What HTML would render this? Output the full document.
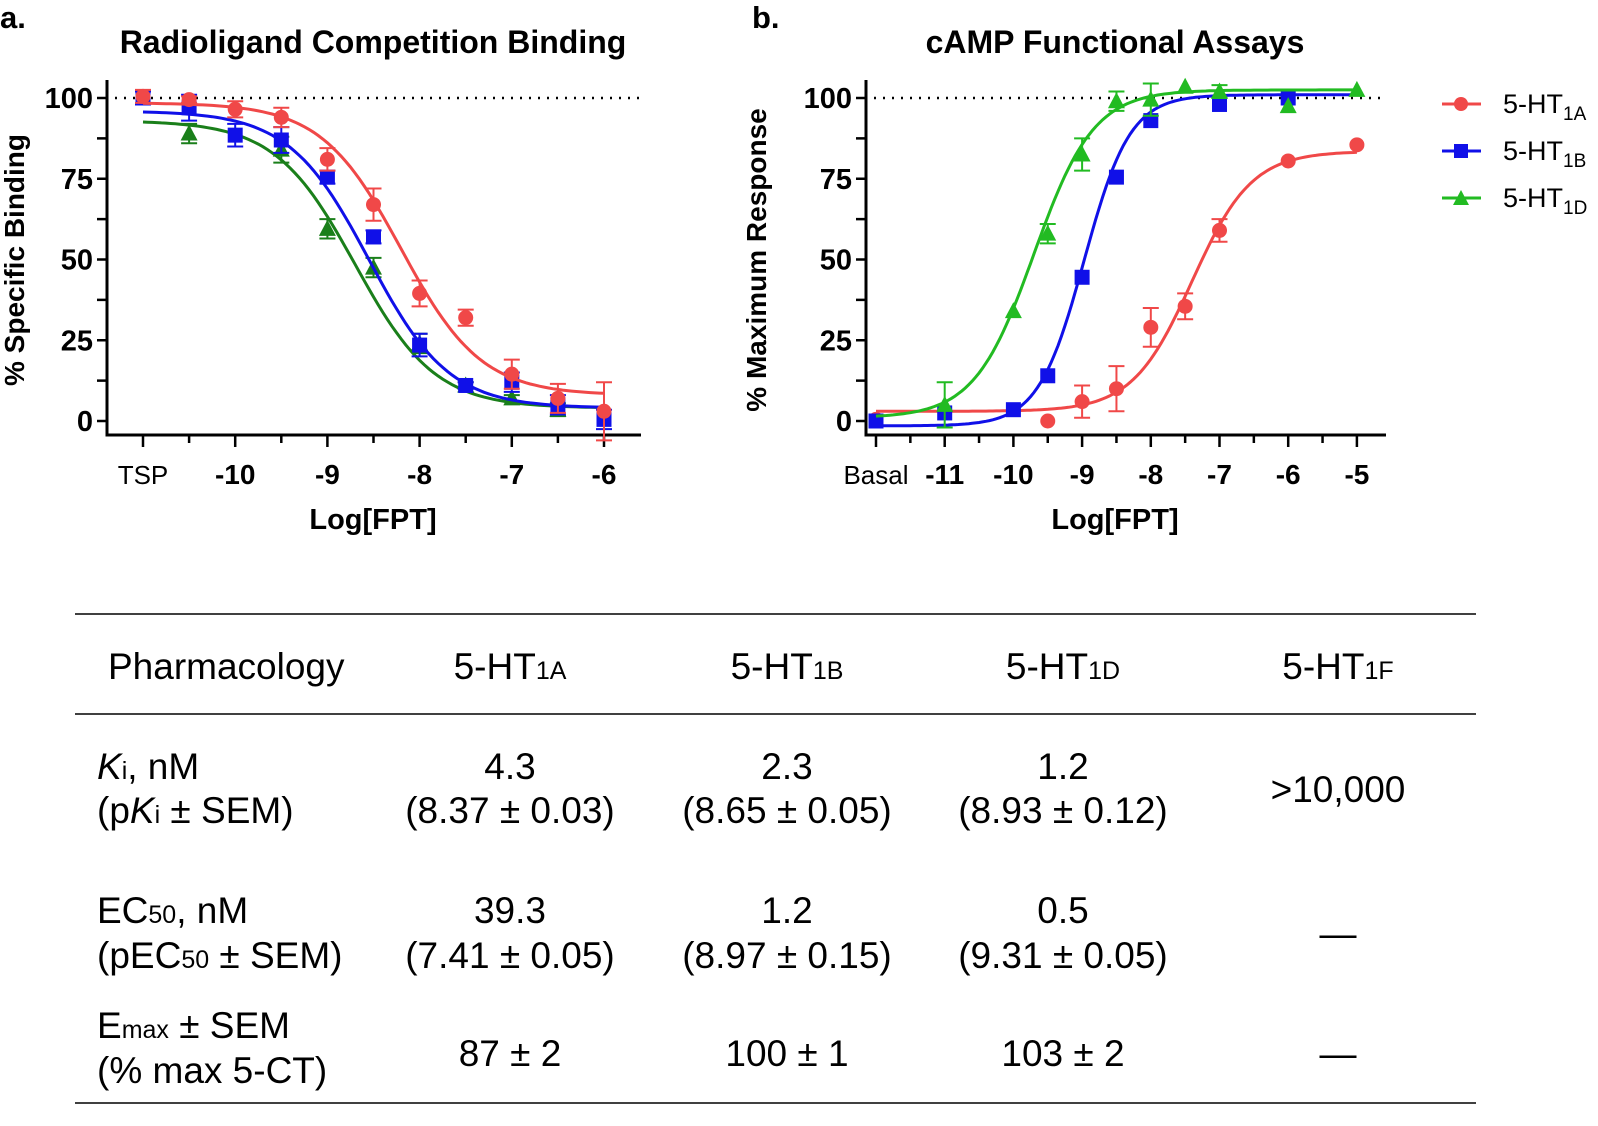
<!DOCTYPE html>
<html><head><meta charset="utf-8"><style>
body{margin:0;background:#fff;}
svg{display:block;font-family:"Liberation Sans",Arial,sans-serif;}
</style></head><body>
<svg id="s" width="1598" height="1126" viewBox="0 0 1598 1126" xmlns="http://www.w3.org/2000/svg">
<text x="0" y="28" font-size="31" font-weight="bold">a.</text>
<text x="373" y="53" font-size="32" font-weight="bold" text-anchor="middle">Radioligand Competition Binding</text>
<text x="752" y="28" font-size="31" font-weight="bold">b.</text>
<text x="1115" y="53" font-size="32" font-weight="bold" text-anchor="middle">cAMP Functional Assays</text>
<g id="g"></g>
<g font-size="37" fill="#000">
<line x1="75" y1="614" x2="1476" y2="614" stroke="#000" stroke-width="1.5"/>
<line x1="75" y1="714" x2="1476" y2="714" stroke="#000" stroke-width="1.5"/>
<line x1="75" y1="1103" x2="1476" y2="1103" stroke="#000" stroke-width="1.5"/>
<text x="108" y="679">Pharmacology</text>
<text x="510" y="679" text-anchor="middle">5-HT<tspan font-size="25">1A</tspan></text>
<text x="787" y="679" text-anchor="middle">5-HT<tspan font-size="25">1B</tspan></text>
<text x="1063" y="679" text-anchor="middle">5-HT<tspan font-size="25">1D</tspan></text>
<text x="1338" y="679" text-anchor="middle">5-HT<tspan font-size="25">1F</tspan></text>
<text x="97" y="779"><tspan font-style="italic">K</tspan><tspan font-size="25">i</tspan>, nM</text>
<text x="97" y="823">(p<tspan font-style="italic">K</tspan><tspan font-size="25">i</tspan> ± SEM)</text>
<text x="510" y="779" text-anchor="middle">4.3</text>
<text x="510" y="823" text-anchor="middle">(8.37 ± 0.03)</text>
<text x="787" y="779" text-anchor="middle">2.3</text>
<text x="787" y="823" text-anchor="middle">(8.65 ± 0.05)</text>
<text x="1063" y="779" text-anchor="middle">1.2</text>
<text x="1063" y="823" text-anchor="middle">(8.93 ± 0.12)</text>
<text x="1338" y="802" text-anchor="middle">&gt;10,000</text>
<text x="97" y="923">EC<tspan font-size="25">50</tspan>, nM</text>
<text x="97" y="968">(pEC<tspan font-size="25">50</tspan> ± SEM)</text>
<text x="510" y="923" text-anchor="middle">39.3</text>
<text x="510" y="968" text-anchor="middle">(7.41 ± 0.05)</text>
<text x="787" y="923" text-anchor="middle">1.2</text>
<text x="787" y="968" text-anchor="middle">(8.97 ± 0.15)</text>
<text x="1063" y="923" text-anchor="middle">0.5</text>
<text x="1063" y="968" text-anchor="middle">(9.31 ± 0.05)</text>
<text x="1338" y="946" text-anchor="middle">—</text>
<text x="97" y="1038">E<tspan font-size="25">max</tspan> ± SEM</text>
<text x="97" y="1083">(% max 5-CT)</text>
<text x="510" y="1066" text-anchor="middle">87 ± 2</text>
<text x="787" y="1066" text-anchor="middle">100 ± 1</text>
<text x="1063" y="1066" text-anchor="middle">103 ± 2</text>
<text x="1338" y="1066" text-anchor="middle">—</text>
</g>
<g font-size="27">
<line x1="1442" y1="104" x2="1481" y2="104" stroke="#f04848" stroke-width="3"/><circle cx="1461" cy="104" r="7" fill="#f04848"/>
<text x="1503" y="113">5-HT<tspan font-size="19" dy="7">1A</tspan></text>
<line x1="1442" y1="151" x2="1481" y2="151" stroke="#1010e8" stroke-width="3"/><rect x="1454" y="144" width="14" height="14" fill="#1010e8"/>
<text x="1503" y="160">5-HT<tspan font-size="19" dy="7">1B</tspan></text>
<line x1="1442" y1="198" x2="1481" y2="198" stroke="#22bb22" stroke-width="3"/><polygon points="1461,190 1469,205 1453,205" fill="#22bb22"/>
<text x="1503" y="207">5-HT<tspan font-size="19" dy="7">1D</tspan></text>
</g>
</svg>
<script>
var g=document.getElementById('g');var h='';
var Y=function(v){return 421-v*3.23;};
var R='#f04848',B='#1010e8',Ga='#1a7f1a',Gb='#22bb22';
function marker(t,x,y,c){if(t=='c')return '<circle cx="'+x+'" cy="'+y+'" r="7.5" fill="'+c+'"/>';
if(t=='s')return '<rect x="'+(x-7.5)+'" y="'+(y-7.5)+'" width="15" height="15" fill="'+c+'"/>';
return '<polygon points="'+x+','+(y-9)+' '+(x+8.5)+','+(y+7)+' '+(x-8.5)+','+(y+7)+'" fill="'+c+'"/>';}
function panel(o){
 var X=function(l){return o.x0+(l-o.l0)*o.k;};
 h+='<line x1="'+o.ax+'" y1="80" x2="'+o.ax+'" y2="435" stroke="#000" stroke-width="3"/>';
 h+='<line x1="'+(o.ax-1.5)+'" y1="435" x2="'+o.axr+'" y2="435" stroke="#000" stroke-width="3"/>';
 h+='<line x1="'+(o.ax+8)+'" y1="98" x2="'+o.axr+'" y2="98" stroke="#000" stroke-width="2.5" stroke-dasharray="2,7"/>';
 for(var v=0;v<=100;v+=12.5){var y=Y(v);h+='<line x1="'+(o.ax-10)+'" y1="'+y+'" x2="'+o.ax+'" y2="'+y+'" stroke="#000" stroke-width="2.5"/>';
  if(v%25==0)h+='<text x="'+(o.ax-14)+'" y="'+(y+10)+'" font-size="29" font-weight="bold" text-anchor="end">'+v+'</text>';}
 for(var l=o.l0;l<=o.l1+0.01;l+=0.5){var x=X(l),maj=Math.abs(l-Math.round(l))<0.01;
  h+='<line x1="'+x+'" y1="435" x2="'+x+'" y2="'+(maj?447:443)+'" stroke="#000" stroke-width="2.5"/>';}
 o.labels.forEach(function(a){h+='<text x="'+X(a[0])+'" y="484" font-size="'+(a[2]?26:28)+'" '+(a[2]?'':'font-weight="bold" ')+'text-anchor="middle">'+a[1]+'</text>';});
 h+='<text x="'+o.xl+'" y="529" font-size="29" font-weight="bold" text-anchor="middle">Log[FPT]</text>';
 h+='<text transform="translate('+o.yx+',260) rotate(-90)" font-size="28" font-weight="bold" text-anchor="middle">'+o.ylab+'</text>';
 o.series.forEach(function(s){var d='';for(var l=o.l0;l<=o.l1+0.001;l+=0.05){var v=s.b+(s.t-s.b)/(1+Math.pow(10,(s.m-l)*s.n));d+=(d?'L':'M')+X(l).toFixed(1)+','+Y(v).toFixed(1);}
  h+='<path d="'+d+'" fill="none" stroke="'+s.c+'" stroke-width="3"/>';
  s.p.forEach(function(p){var x=X(p[0]),y=Y(p[1]);if(p[2]){var e=p[2]*3.23;h+='<path d="M'+x+','+(y-e)+'V'+(y+e)+'M'+(x-8)+','+(y-e)+'H'+(x+8)+'M'+(x-8)+','+(y+e)+'H'+(x+8)+'" stroke="'+s.c+'" stroke-width="2" fill="none"/>';}
   h+=marker(s.mk,x,y,s.c);});});
}
panel({x0:143,l0:-11,l1:-6,k:92.2,ax:107,axr:641,xl:373,yx:24,ylab:'% Specific Binding',
 labels:[[-11,'TSP',1],[-10,'-10'],[-9,'-9'],[-8,'-8'],[-7,'-7'],[-6,'-6']],
 series:[
 {c:Ga,mk:'t',t:93,b:4,m:-8.7,n:-1,p:[[-10.5,89,3],[-9.5,84,4],[-9,59.5,3],[-8.5,47.5,3],[-8,24,3],[-7.5,11,1],[-7,7,1],[-6.5,3.5,2]]},
 {c:B,mk:'s',t:96,b:4,m:-8.55,n:-1,p:[[-11,100,2],[-10.5,97,4],[-10,88.5,3.5],[-9.5,87,4],[-9,75.5,2],[-8.5,57,2],[-8,23.5,3.5],[-7.5,11,1],[-7,12,3],[-6.5,5,3],[-6,0.5,3]]},
 {c:R,mk:'c',t:98.5,b:8,m:-8.2,n:-1,p:[[-11,100.5,2],[-10.5,99.5,1],[-10,96.5,2.5],[-9.5,94,3],[-9,81,3.5],[-8.5,67,5],[-8,39.5,4],[-7.5,32,2.5],[-7,14.5,4.5],[-6.5,7,4.5],[-6,3,9]]}]});
panel({x0:876,l0:-12,l1:-5,k:68.7,ax:866,axr:1386,xl:1115,yx:766,ylab:'% Maximum Response',
 labels:[[-12,'Basal',1],[-11,'-11'],[-10,'-10'],[-9,'-9'],[-8,'-8'],[-7,'-7'],[-6,'-6'],[-5,'-5']],
 series:[
 {c:R,mk:'c',t:83.5,b:3,m:-7.4,n:1,p:[[-12,0.5,0],[-9.5,0,0],[-9,6,5],[-8.5,10,7],[-8,29,6],[-7.5,35.5,4],[-7,59,3.5],[-6,80.5,0],[-5,85.5,0]]},
 {c:B,mk:'s',t:101,b:-1.5,m:-8.97,n:1.3,p:[[-12,0,0],[-11,2.5,0],[-10,3.5,0],[-9.5,14,0],[-9,44.5,0],[-8.5,75.5,0],[-8,93,0],[-7,98,0],[-6,100,0]]},
 {c:Gb,mk:'t',t:102.5,b:1,m:-9.7,n:1,p:[[-11,5,7],[-10,34,0],[-9.5,58,3],[-9,82.5,5],[-8.5,99,3],[-8,99.5,5],[-7.5,103.5,0],[-7,102,2],[-6,97.5,0],[-5,102.5,0]]}]});
g.innerHTML=h;
</script>
</body></html>
